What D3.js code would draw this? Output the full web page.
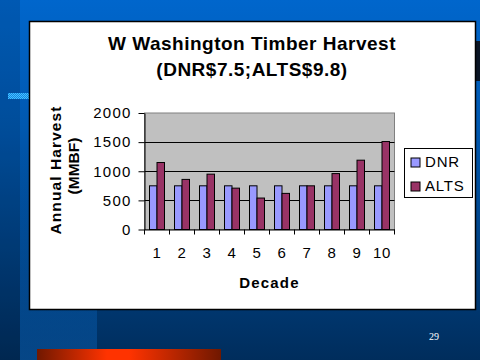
<!DOCTYPE html>
<html><head><meta charset="utf-8">
<script src="https://cdn.jsdelivr.net/npm/d3@7/dist/d3.min.js"></script>
<style>
html,body{margin:0;padding:0;background:#003366;}
svg{display:block;}
text{font-family:"Liberation Sans",Arial,sans-serif;}
</style></head>
<body>
<script>
// ---- data ----
const decades = ["1","2","3","4","5","6","7","8","9","10"];
const seriesNames = ["DNR","ALTS"];
const dnrValues = [750,750,750,750,750,750,750,750,750,750];
const altsValues = [1150,860,950,710,540,620,750,960,1190,1510];
const yTickValues = [0,500,1000,1500,2000];
const titleLines = ["W Washington Timber Harvest","(DNR$7.5;ALTS$9.8)"];
const yTitleLines = ["Annual Harvest","(MMBF)"];
const xTitle = "Decade";
const pageNumber = "29";
const colors = {DNR:"#9999ff", ALTS:"#993366"};

(function(){
const W=480,H=360;
const svg=d3.select("body").append("svg").attr("width",W).attr("height",H);
const defs=svg.append("defs");

// background gradient
const bg=defs.append("linearGradient").attr("id","bg").attr("x1",0).attr("y1",0).attr("x2",0).attr("y2",1);
bg.append("stop").attr("offset","0").attr("stop-color","#0066cc");
bg.append("stop").attr("offset","0.35").attr("stop-color","#0058b0");
bg.append("stop").attr("offset","1").attr("stop-color","#002d5c");
svg.append("rect").attr("width",W).attr("height",H).attr("fill","url(#bg)");
// left darker strip & lighter band
svg.append("rect").attr("x",0).attr("y",0).attr("width",20).attr("height",H).attr("fill","#000").attr("opacity",0.12);
const band=defs.append("linearGradient").attr("id","band").attr("x1",0).attr("y1",0).attr("x2",0).attr("y2",1);
band.append("stop").attr("offset","0").attr("stop-color","#0066cc").attr("stop-opacity",0);
band.append("stop").attr("offset","1").attr("stop-color","#0a5aa8").attr("stop-opacity",0.55);
svg.append("rect").attr("x",20).attr("y",150).attr("width",77).attr("height",H-150).attr("fill","url(#band)");
// right dark notch
svg.append("rect").attr("x",476).attr("y",41).attr("width",4).attr("height",40).attr("fill","#0a1525");
// dotted pattern
const pat=defs.append("pattern").attr("id","dots").attr("patternUnits","userSpaceOnUse").attr("width",2).attr("height",2);
pat.append("rect").attr("width",2).attr("height",2).attr("fill","#1a80e0");
pat.append("rect").attr("width",1).attr("height",1).attr("fill","#40c8ff");
pat.append("rect").attr("x",1).attr("y",1).attr("width",1).attr("height",1).attr("fill","#40c8ff");
svg.append("rect").attr("x",8).attr("y",93).attr("width",22).attr("height",6).attr("fill","url(#dots)");
// orange bar
const og=defs.append("linearGradient").attr("id","og").attr("x1",0).attr("y1",0).attr("x2",1).attr("y2",0);
og.append("stop").attr("offset","0").attr("stop-color","#701800");
og.append("stop").attr("offset","0.38").attr("stop-color","#ff3300");
og.append("stop").attr("offset","0.5").attr("stop-color","#ff3300");
og.append("stop").attr("offset","1").attr("stop-color","#701800");
svg.append("rect").attr("x",37).attr("y",349).attr("width",184).attr("height",11).attr("fill","url(#og)");
// page number
svg.append("text").attr("x",434).attr("y",340).attr("text-anchor","middle")
  .style("font-family","'Liberation Serif','Times New Roman',serif").style("font-size","10px").attr("fill","#fff").text(pageNumber);

// white panel
svg.append("rect").attr("x",29.5).attr("y",21.5).attr("width",446).attr("height",288).attr("fill","#fff").attr("stroke","#000").attr("stroke-width",1.5);

// title
svg.append("g").selectAll("text").data(titleLines).join("text")
  .attr("x",252).attr("y",(d,i)=>49.5+i*26.5).attr("text-anchor","middle")
  .style("font-size","19px").style("font-weight","bold").style("letter-spacing","0.5px").attr("fill","#000").text(d=>d);

// scales
const pL=144.5,pR=394.5,pT=113,pB=229.5;
const x0=d3.scaleBand().domain(decades).range([pL,pR]).padding(0);
const x1=d3.scaleBand().domain(seriesNames).range([5,20]);
const y=d3.scaleLinear().domain([0,2000]).range([pB,pT]);

// plot area
svg.append("rect").attr("x",pL).attr("y",pT).attr("width",pR-pL).attr("height",pB-pT)
  .attr("fill","#c0c0c0").attr("stroke","#808080").attr("stroke-width",1);
svg.append("g").selectAll("line").data(yTickValues.filter(v=>v>0&&v<2000)).join("line")
  .attr("x1",pL).attr("x2",pR).attr("y1",d=>Math.round(y(d))+0.5).attr("y2",d=>Math.round(y(d))+0.5)
  .attr("stroke","#000").attr("stroke-width",1);

// bars
const rows=decades.map((d,i)=>({decade:d, DNR:dnrValues[i], ALTS:altsValues[i]}));
const g=svg.append("g");
g.selectAll("g").data(rows).join("g").attr("transform",d=>`translate(${x0(d.decade)},0)`)
  .selectAll("rect").data(d=>seriesNames.map(k=>({key:k,value:d[k]}))).join("rect")
  .attr("x",d=>x1(d.key)).attr("width",x1.bandwidth())
  .attr("y",d=>y(d.value)).attr("height",d=>y(0)-y(d.value))
  .attr("fill",d=>colors[d.key]).attr("stroke","#000").attr("stroke-width",1);

// y axis
const yAxis=svg.append("g").attr("transform",`translate(${pL},0)`)
  .call(d3.axisLeft(y).tickValues(yTickValues).tickFormat(d3.format("d")).tickSize(6).tickPadding(7).tickSizeOuter(0));
yAxis.select(".domain").attr("stroke","#000");
yAxis.selectAll("line").attr("stroke","#000");
yAxis.selectAll("text").style("font-size","15px").style("letter-spacing","1.2px").attr("fill","#000").attr("font-family",null);

// x axis
const xAxis=svg.append("g").attr("transform",`translate(0,${pB})`)
  .call(d3.axisBottom(x0).tickSize(0).tickPadding(18).tickSizeOuter(0));
xAxis.select(".domain").attr("stroke","#000");
xAxis.selectAll("text").style("font-size","15px").style("letter-spacing","0.6px").attr("fill","#000").attr("font-family",null);
svg.append("g").selectAll("line").data(decades.map(d=>x0(d)).concat([pR])).join("line")
  .attr("x1",d=>d).attr("x2",d=>d).attr("y1",pB).attr("y2",pB+5).attr("stroke","#000");

// axis titles
svg.append("text").attr("x",269.5).attr("y",288).attr("text-anchor","middle")
  .style("font-size","15px").style("font-weight","bold").style("letter-spacing","1.2px").text(xTitle);
svg.append("g").selectAll("text").data(yTitleLines).join("text")
  .attr("transform",(d,i)=>`translate(${i===0?61:79},${i===0?170:166}) rotate(-90)`).attr("text-anchor","middle")
  .style("font-size","15.5px").style("font-weight","bold").style("letter-spacing",(d,i)=>i===0?"1.1px":"0px").text(d=>d);

// legend
const lg=svg.append("g");
lg.append("rect").attr("x",404.5).attr("y",148.5).attr("width",68).attr("height",49).attr("fill","#fff").attr("stroke","#000");
const li=lg.selectAll("g").data(seriesNames).join("g").attr("transform",(d,i)=>`translate(0,${i*24})`);
li.append("rect").attr("x",411).attr("y",158).attr("width",9).attr("height",9).attr("fill",d=>colors[d]).attr("stroke","#000");
li.append("text").attr("x",425).attr("y",167).style("font-size","15px").style("letter-spacing","0.8px").text(d=>d);
})();
</script>
</body></html>
